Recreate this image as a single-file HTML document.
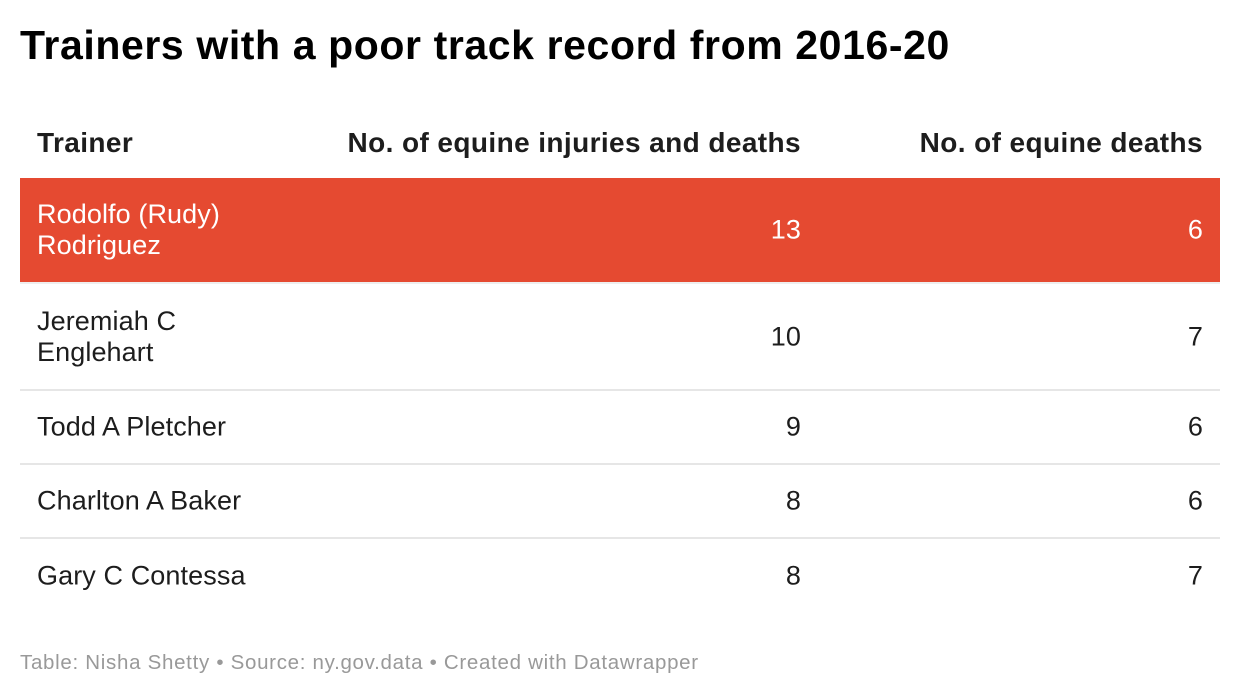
<!DOCTYPE html>
<html><head><meta charset="utf-8">
<style>
body{margin:0;width:1240px;height:696px;background:#fff;font-family:"Liberation Sans",sans-serif;color:#1d1d1d;position:relative;overflow:hidden}
.title{position:absolute;left:20px;top:22px;font-size:41px;font-weight:bold;letter-spacing:0.6px;color:#000}
.hd{position:absolute;top:126px;font-size:28px;font-weight:bold;line-height:34px;letter-spacing:0.4px}
.row{position:absolute;left:20px;width:1200px;border-bottom:2px solid #e6e6e6;box-sizing:border-box}
.row.hl{background:#e54a31;color:#fff;border-bottom:2px solid #eee}
.row.last{border-bottom:none}
.cell{position:absolute;top:50%;transform:translateY(-50%);font-size:27px;line-height:31px;letter-spacing:0.1px}
.c1{left:17px}
.c2{right:419px;text-align:right}
.c3{right:17px;text-align:right}
.foot{position:absolute;left:20px;top:651px;font-size:20.5px;color:#999;letter-spacing:0.7px}
</style></head><body>
<div class="title">Trainers with a poor track record from 2016-20</div>
<div class="hd" style="left:37px">Trainer</div>
<div class="hd" style="right:439px">No. of equine injuries and deaths</div>
<div class="hd" style="right:37px">No. of equine deaths</div>
<div id="tbl"></div>
<div class="foot">Table: Nisha Shetty • Source: ny.gov.data • Created with Datawrapper</div>
<script>
const trainers=["Rodolfo (Rudy)<br>Rodriguez","Jeremiah C<br>Englehart","Todd A Pletcher","Charlton A Baker","Gary C Contessa"];
const injuriesDeaths=[13,10,9,8,8];
const deaths=[6,7,6,6,7];
const tbl=document.getElementById('tbl');
let y=178;
trainers.forEach((t,i)=>{
  const two=t.includes('<br>');
  const h=two?(i===0?106:107):74;
  const r=document.createElement('div');
  r.className='row'+(i===0?' hl':'')+(i===trainers.length-1?' last':'');
  r.style.top=y+'px';r.style.height=h+'px';
  
  
  const a=document.createElement('div');a.className='cell c1';a.innerHTML=t;
  
  
  const b=document.createElement('div');b.className='cell c2';b.textContent=injuriesDeaths[i];
  
  
  const c=document.createElement('div');c.className='cell c3';c.textContent=deaths[i];
  
  
  r.append(a,b,c);tbl.appendChild(r);
  y+=h;
});
</script>
</body></html>
